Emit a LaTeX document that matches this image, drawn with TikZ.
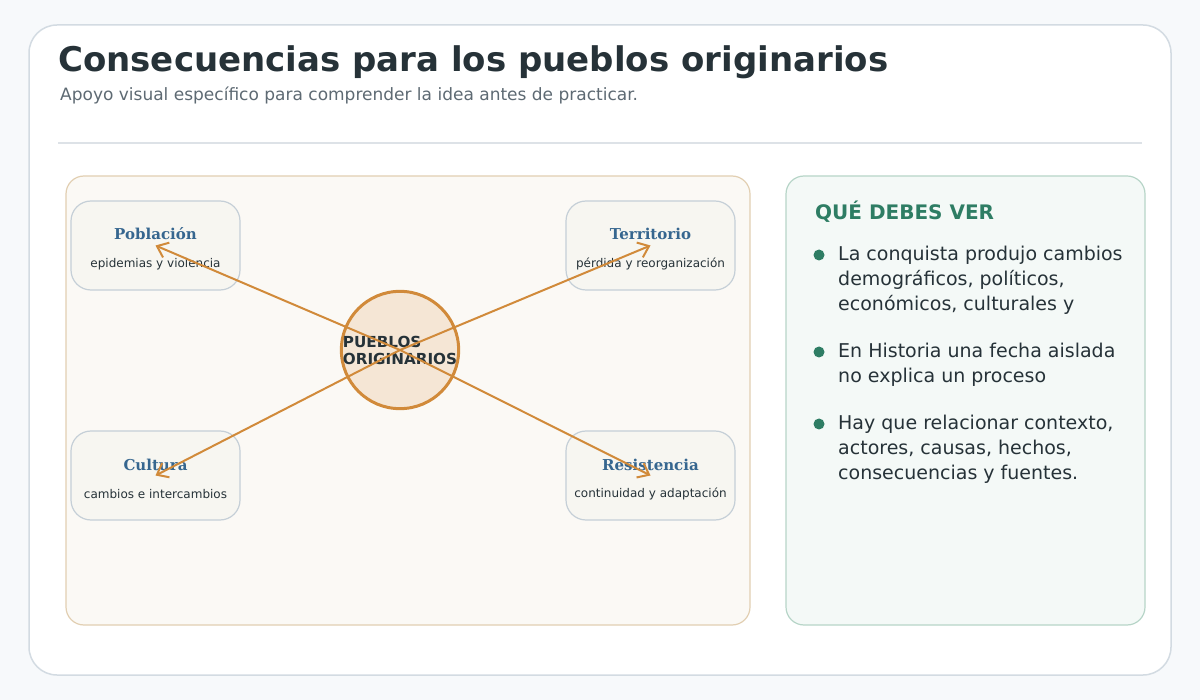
\documentclass[tikz,border=0pt]{standalone}
\usepackage{fontspec}
\setmainfont{DejaVu Sans}
\newfontfamily\serifbf{DejaVu Serif}
\usepackage{tikz}
\usetikzlibrary{arrows.meta}
\definecolor{ink}{HTML}{263238}
\definecolor{muted}{HTML}{5E6A73}
\definecolor{pagebg}{HTML}{F7F9FB}
\definecolor{cardline}{HTML}{D3DBE2}
\definecolor{rulegray}{HTML}{DDE2E7}
\definecolor{mapfill}{HTML}{FBF9F5}
\definecolor{mapline}{HTML}{E2CFB2}
\definecolor{notefill}{HTML}{F4F9F7}
\definecolor{noteline}{HTML}{B7D5C8}
\definecolor{boxfill}{HTML}{F7F6F1}
\definecolor{boxline}{HTML}{C5CFD7}
\definecolor{titleblue}{HTML}{36668F}
\definecolor{accent}{HTML}{D18A3A}
\definecolor{hubfill}{HTML}{F5E6D5}
\definecolor{green}{HTML}{2E7D64}
\tikzset{
  panel/.style={
    draw=#1, line width=1.2pt, rounded corners=18pt,
  },
  topic/.style={
    draw=boxline, fill=boxfill, line width=1.2pt, rounded corners=20pt,
    minimum width=169pt, minimum height=89pt, inner sep=0pt,
  },
  topictitle/.style={
    font=\serifbf\fontsize{15}{17}\selectfont\bfseries, text=titleblue,
  },
  topicnote/.style={
    font=\fontsize{12}{14}\selectfont, text=ink,
  },
  hubc/.style={
    circle, draw=accent, fill=hubfill, line width=3pt,
    minimum size=115pt, inner sep=0pt, align=left,
    font=\fontsize{15.2}{17}\selectfont\bfseries, text=ink,
  },
  arr/.style={-{Straight Barb[length=10pt,width=16pt]}, line width=2pt, draw=accent},
  bullet/.style={circle, fill=green, minimum size=11pt, inner sep=0pt},
  notetext/.style={
    anchor=north west, align=left, inner sep=0pt,
    font=\fontsize{19}{25}\selectfont, text=ink,
  },
}

\begin{document}
\begin{tikzpicture}[x=1pt,y=-1pt]
  \useasboundingbox (0,0) rectangle (1200,700);
  \fill[pagebg] (0,0) rectangle (1200,700);

  % Card and header
  \draw[fill=white, draw=cardline, line width=1.5pt, rounded corners=28pt] (29,25) rectangle (1171,675);
  \node[anchor=west, inner sep=0pt, font=\fontsize{34}{40}\selectfont\bfseries, text=ink] (title) at (58,62) {Consecuencias para los pueblos originarios};
  \node[anchor=west, inner sep=0pt, font=\fontsize{17}{20}\selectfont, text=muted] (subtitle) at (60,95) {Apoyo visual específico para comprender la idea antes de practicar.};
  \draw[rulegray, line width=1.5pt] (58,143) -- (1142,143);

  % Panels
  \draw[panel=mapline, fill=mapfill] (66,176) rectangle (750,625);
  \draw[panel=noteline, fill=notefill] (786,176) rectangle (1145,625);

  % Topic boxes
  \node[topic] (pob) at (155.5,245.5) {};
  \node[topic] (ter) at (650.5,245.5) {};
  \node[topic] (cul) at (155.5,475.5) {};
  \node[topic] (res) at (650.5,475.5) {};
  \node[topictitle] at (155.5,234) {Población};
  \node[topicnote] at (155.5,264) {epidemias y violencia};
  \node[topictitle] at (650.5,234) {Territorio};
  \node[topicnote] at (650.5,264) {pérdida y reorganización};
  \node[topictitle] at (155.5,465) {Cultura};
  \node[topicnote] at (155.5,494) {cambios e intercambios};
  \node[topictitle] at (650.5,465) {Resistencia};
  \node[topicnote] at (650.5,494) {continuidad y adaptación};

  % Hub and arrows
  \node[hubc] (hub) at (400,350) {PUEBLOS\\ORIGINARIOS};
  \foreach \t in {pob,ter,cul,res}
    \draw[arr] (hub.center) -- (\t.center);

  % Notes
  \node[anchor=west, inner sep=0pt, font=\fontsize{20}{24}\selectfont\bfseries, text=green] (notehead) at (815,212) {QUÉ DEBES VER};
  \node[bullet] (b1) at (819,255) {};
  \node[bullet] (b2) at (819,352) {};
  \node[bullet] (b3) at (819,424) {};
  \node[notetext] (n1) at (838,246) {La conquista produjo cambios\\demográficos, políticos,\\económicos, culturales y};
  \node[notetext] (n2) at (838,343) {En Historia una fecha aislada\\no explica un proceso};
  \node[notetext] (n3) at (838,415) {Hay que relacionar contexto,\\actores, causas, hechos,\\consecuencias y fuentes.};
\end{tikzpicture}
\end{document}
